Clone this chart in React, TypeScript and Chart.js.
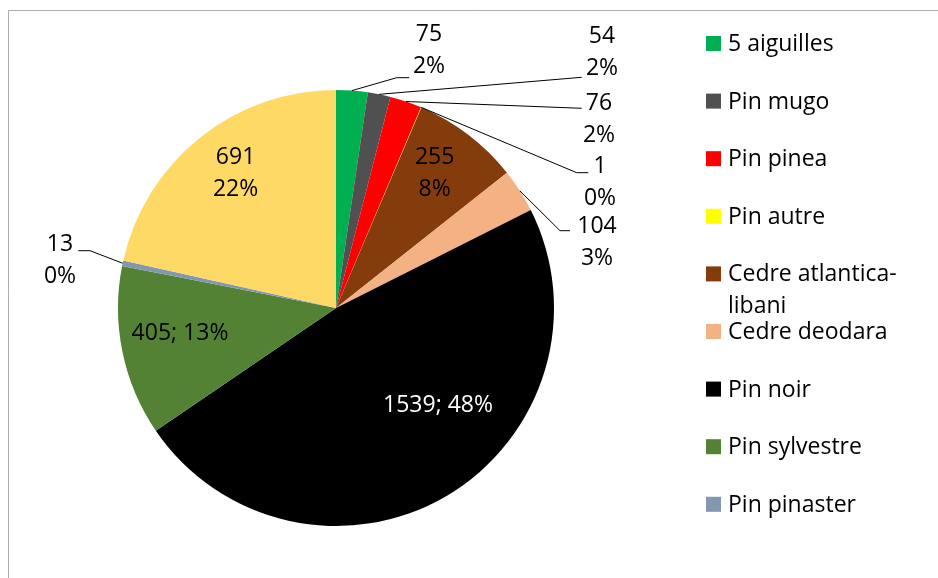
import { useEffect, useRef } from "react";
import { Chart, registerables } from "chart.js";

Chart.register(...registerables);

// ---- data ----
const categories = [
  "5 aiguilles",
  "Pin mugo",
  "Pin pinea",
  "Pin autre",
  "Cedre atlantica-libani",
  "Cedre deodara",
  "Pin noir",
  "Pin sylvestre",
  "Pin pinaster",
  "Autres",
];
const values = [75, 54, 76, 1, 255, 104, 1539, 405, 13, 691];
// the legend of the reference is truncated after 9 entries
const legendLabels: string[][] = [
  ["5 aiguilles"],
  ["Pin mugo"],
  ["Pin pinea"],
  ["Pin autre"],
  ["Cedre atlantica-", "libani"],
  ["Cedre deodara"],
  ["Pin noir"],
  ["Pin sylvestre"],
  ["Pin pinaster"],
];
const sliceColors = [
  "#00B050",
  "#505050",
  "#FF0000",
  "#FFFF00",
  "#843C0C",
  "#F4B183",
  "#000000",
  "#548235",
  "#8497B0",
  "#FFD966",
];

// ---- label layout (offsets from pie centre, px) ----
type LabelLayout = {
  mode: "two" | "one";
  dx: number; // text centre x
  dy: number; // first line centre y (two) or line centre (one)
  color?: string;
  leader?: { ex: number; ey: number; stub: number };
};
const labelLayout: LabelLayout[] = [
  { mode: "two", dx: 93, dy: -275.5, leader: { ex: 73.3, ey: -230.3, stub: 12.6 } },
  { mode: "two", dx: 266, dy: -273, leader: { ex: 245.7, ey: -230.7, stub: 0 } },
  { mode: "two", dx: 263, dy: -206.3, leader: { ex: 245.7, ey: -199.7, stub: 0 } },
  { mode: "two", dx: 264, dy: -143, leader: { ex: 252.3, ey: -135.3, stub: 11.6 } },
  { mode: "two", dx: 98.7, dy: -152.7 },
  { mode: "two", dx: 261, dy: -83, leader: { ex: 234, ey: -77.3, stub: 10 } },
  { mode: "one", dx: 102, dy: 96, color: "#FFFFFF" },
  { mode: "one", dx: -156, dy: 24 },
  { mode: "two", dx: -276, dy: -65, leader: { ex: -257.7, ey: -57.3, stub: -11.7 } },
  { mode: "two", dx: -100.4, dy: -152.7 },
];

const FONT_FAMILY = "'Open Sans', 'Noto Sans', sans-serif";
const LABEL_SIZE = 23;
const LEGEND_SIZE = 23;
const LINE_GAP = 32;

const overlayPlugin = {
  id: "excelOverlay",
  afterDraw(chart: any) {
    const ctx: CanvasRenderingContext2D = chart.ctx;
    const meta = chart.getDatasetMeta(0);
    const ds = chart.data.datasets[0].data as number[];
    const total = ds.reduce((a, b) => a + b, 0);

    ctx.save();
    // frame
    ctx.strokeStyle = "#ADADAD";
    ctx.lineWidth = 1;
    ctx.beginPath();
    ctx.moveTo(8.5, 600);
    ctx.lineTo(8.5, 10.5);
    ctx.lineTo(960, 10.5);
    ctx.stroke();

    // data labels
    const capH = 0.714 * LABEL_SIZE;
    ctx.font = `${LABEL_SIZE}px ${FONT_FAMILY}`;
    ctx.textAlign = "center";
    ctx.textBaseline = "alphabetic";
    meta.data.forEach((arc: any, i: number) => {
      const p = arc.getProps(["x", "y", "startAngle", "endAngle", "outerRadius"], true);
      const cx = p.x;
      const cy = p.y;
      const lay = labelLayout[i];
      if (!lay) return;
      const v = ds[i];
      const pct = Math.round((v / total) * 100) + "%";
      if (lay.leader) {
        const mid = (p.startAngle + p.endAngle) / 2;
        const sx = cx + Math.cos(mid) * p.outerRadius;
        const sy = cy + Math.sin(mid) * p.outerRadius;
        const ex = cx + lay.leader.ex;
        const ey = cy + lay.leader.ey;
        ctx.strokeStyle = "#000000";
        ctx.lineWidth = 1;
        ctx.beginPath();
        ctx.moveTo(sx, sy);
        ctx.lineTo(ex - lay.leader.stub, ey);
        ctx.lineTo(ex, ey);
        ctx.stroke();
      }
      ctx.fillStyle = lay.color || "#000000";
      const tx = cx + lay.dx;
      const ty = cy + lay.dy;
      if (lay.mode === "two") {
        ctx.fillText(String(v), tx, ty + capH / 2);
        ctx.fillText(pct, tx, ty + LINE_GAP + capH / 2);
      } else {
        ctx.fillText(`${v}; ${pct}`, tx, ty + capH / 2);
      }
    });

    // legend
    ctx.font = `${LEGEND_SIZE}px ${FONT_FAMILY}`;
    ctx.textAlign = "left";
    legendLabels.forEach((lines, i) => {
      const base = 51 + 57.6 * i;
      ctx.fillStyle = sliceColors[i];
      ctx.fillRect(706, base - 15, 15, 15);
      ctx.fillStyle = "#000000";
      lines.forEach((t, k) => ctx.fillText(t, 728, base + k * LINE_GAP));
    });
    ctx.restore();
  },
};

export default function App() {
  const ref = useRef<HTMLCanvasElement>(null);
  useEffect(() => {
    if (!ref.current) return;
    const chart = new Chart(ref.current, {
      type: "pie",
      data: {
        labels: categories,
        datasets: [
          {
            data: values,
            backgroundColor: sliceColors,
            borderWidth: 0,
          },
        ],
      },
      options: {
        responsive: false,
        animation: false,
        layout: { padding: { left: 118, top: 90, right: 384, bottom: 52 } },
        plugins: {
          legend: { display: false },
          tooltip: { enabled: false },
        },
      },
      plugins: [overlayPlugin],
    });
    return () => chart.destroy();
  }, []);
  return (
    <div
      style={{
        position: "fixed",
        left: 0,
        top: 0,
        width: 938,
        height: 578,
        background: "#FFFFFF",
        overflow: "hidden",
      }}
    >
      <canvas ref={ref} width={938} height={578} style={{ display: "block", width: 938, height: 578 }} />
    </div>
  );
}
